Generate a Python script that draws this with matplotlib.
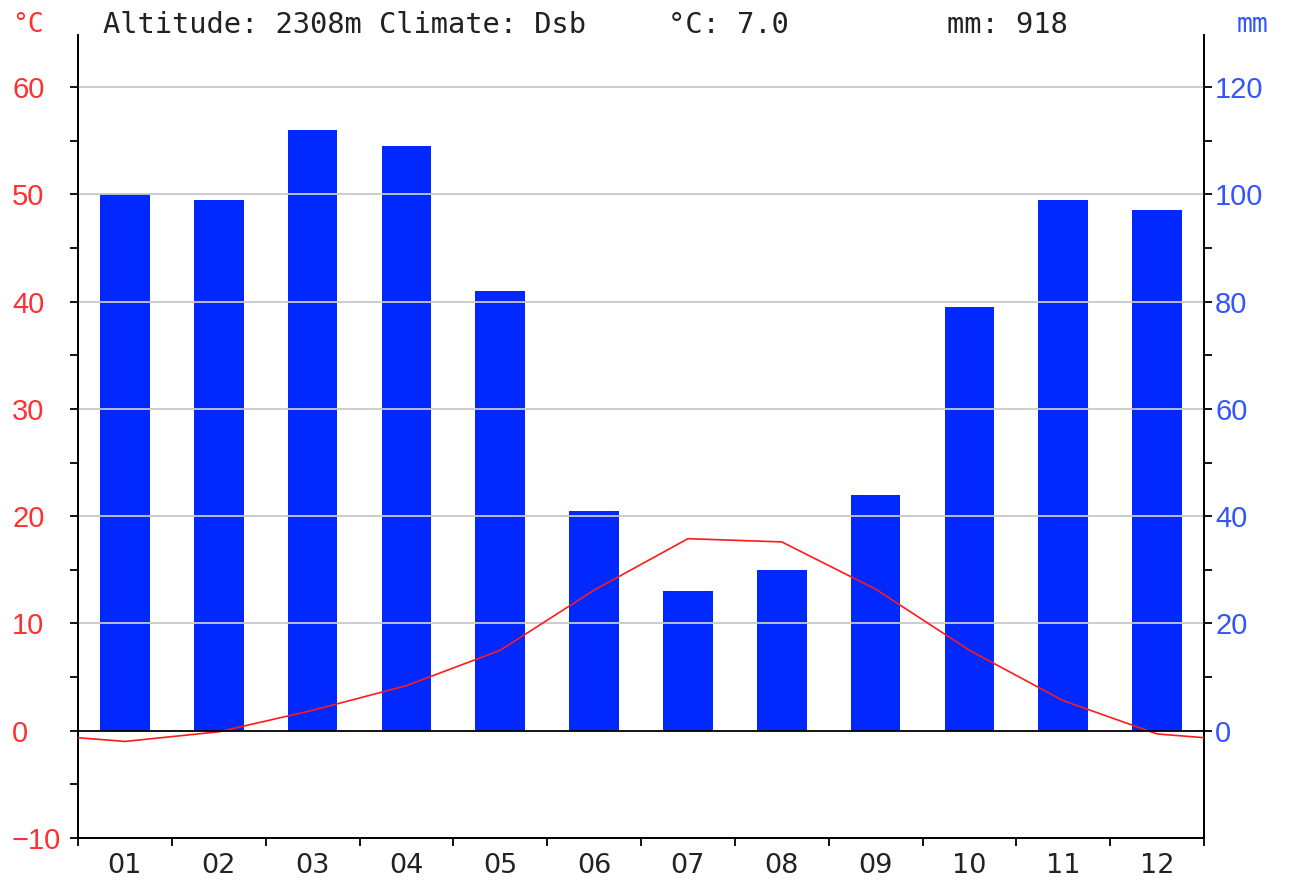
import matplotlib
matplotlib.use("Agg")
import matplotlib.pyplot as plt
import numpy as np

months = ["01", "02", "03", "04", "05", "06", "07", "08", "09", "10", "11", "12"]
precip_mm = [100, 99, 112, 109, 82, 41, 26, 30, 44, 79, 99, 97]
temp_c = [-1.0, -0.1, 1.9, 4.2, 7.5, 13.1, 17.9, 17.6, 13.2, 7.5, 2.8, -0.3]
altitude_m = 2308
climate = "Dsb"

temp_ticks = [-10, 0, 10, 20, 30, 40, 50, 60]
mm_ticks = [0, 20, 40, 60, 80, 100, 120]

W, H = 1291, 881
fig = plt.figure(figsize=(W / 100, H / 100), dpi=100)
left, right, top, bottom = 78, 1204, 35, 838
ax = fig.add_axes([left / W, 1 - bottom / H, (right - left) / W, (bottom - top) / H])
ax2 = ax.twinx()

ymin, ymax = -10, 64.85
ax.set_ylim(ymin, ymax)
ax2.set_ylim(ymin * 2, ymax * 2)
ax.set_xlim(0, 12)

# grid lines every 10 degrees above zero
for v in temp_ticks:
    if v > 0:
        ax.axhline(v, color="#c8c8c8", lw=1.3, zorder=0)

x = np.arange(12) + 0.5
ax2.bar(x, precip_mm, width=0.53, color="#0028ff", zorder=2)

# temperature line, closed at the edges with the Dec/Jan mean
edge = (temp_c[0] + temp_c[-1]) / 2
tx = np.concatenate([[0], x, [12]])
ty = np.concatenate([[edge], temp_c, [edge]])
ax.plot(tx, ty, color="#ff1a1a", lw=1.2, zorder=5)
ax.set_zorder(ax2.get_zorder() + 1)
ax.patch.set_visible(False)

ax.axhline(0, color="black", lw=1.3, zorder=6)

for a in (ax, ax2):
    a.spines["top"].set_visible(False)
    for s in ("left", "right", "bottom"):
        a.spines[s].set_linewidth(1.3)

sans = "Liberation Sans"

# x axis: ticks on month boundaries, labels centred
ax.set_xticks(np.arange(13))
ax.set_xticklabels([])
ax.set_xticks(x, minor=True)
ax.set_xticklabels(months, minor=True, fontsize=19.5, color="#222222", family="DejaVu Sans")
ax.tick_params(axis="x", which="major", length=6, width=1.3, direction="out")
ax.tick_params(axis="x", which="minor", length=0, pad=11)

# left temperature axis
ax.set_yticks(temp_ticks, labels=[str(t).replace("-", "\u2212") for t in temp_ticks],
              ha="left", family=sans)
ax.set_yticks(np.arange(-5, 65, 10), minor=True)
ax.tick_params(axis="y", which="both", length=6, width=1.3, direction="out",
               labelcolor="#ff3030", labelsize=21)
ax.tick_params(axis="y", which="major", pad=41.5)

# right precipitation axis
ax2.set_yticks(mm_ticks, labels=[str(m) for m in mm_ticks], family=sans)
ax2.set_yticks(np.arange(10, 130, 20), minor=True)
ax2.tick_params(axis="y", which="both", length=6, width=1.3, direction="out",
                labelcolor="#3355ff", labelsize=21, pad=2)

mono = "DejaVu Sans Mono"
hy = 1 - 25 / H
fig.text(12 / W, hy, "°C", color="#ff3030", fontsize=19, family=mono, va="center")
fig.text(1237 / W, hy, "mm", color="#3355ff", fontsize=19, family=mono, va="center")
fig.text(103 / W, hy, f"Altitude: {altitude_m}m Climate: {climate}", fontsize=20.7,
         family=mono, va="center", color="#222222")
mean_t = np.mean(temp_c)
fig.text(668 / W, hy, f"°C: {mean_t:.1f}", fontsize=20.7, family=mono, va="center", color="#222222")
fig.text(947 / W, hy, f"mm: {sum(precip_mm)}", fontsize=20.7, family=mono, va="center", color="#222222")

fig.savefig("out.png", dpi=100, facecolor="white")
